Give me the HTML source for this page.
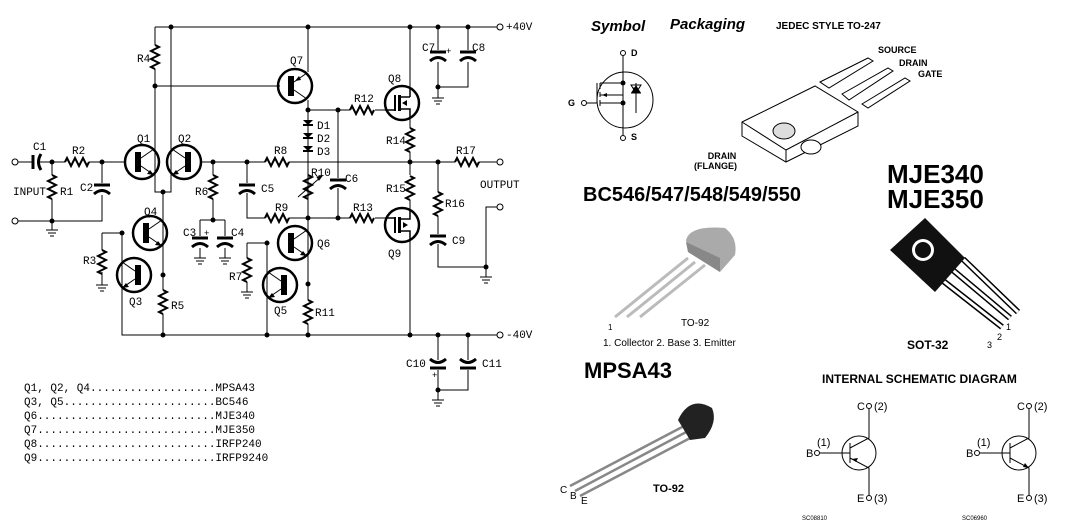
<!DOCTYPE html>
<html><head><meta charset="utf-8"><style>
html,body{margin:0;padding:0;background:#fff;width:1066px;height:528px;overflow:hidden}
svg{display:block}
.m{font-family:"Liberation Mono",monospace;font-size:11px;fill:#000}
.s{font-family:"Liberation Sans",sans-serif;fill:#000}
</style></head><body>
<svg width="1066" height="528" viewBox="0 0 1066 528" xmlns="http://www.w3.org/2000/svg">
<defs>
<path id="rv" d="M0,0 l4,2 -8,4 8,4 -8,4 8,4 -8,4 4,2" fill="none" stroke="#000" stroke-width="2"/>
<path id="rh" d="M0,0 l2,-4 4,8 4,-8 4,8 4,-8 4,8 2,-4" fill="none" stroke="#000" stroke-width="2"/>
<g id="npn"><circle r="17" fill="none" stroke="#000" stroke-width="2.5"/><rect x="-7" y="-10" width="6" height="20"/><line x1="-1" y1="-4" x2="12" y2="-13" stroke="#000"/><line x1="-1" y1="4" x2="12" y2="13" stroke="#000"/><path d="M12,13 l-7,-1 3,-4z"/></g>
<g id="pnp"><circle r="17" fill="none" stroke="#000" stroke-width="2.5"/><rect x="-7" y="-10" width="6" height="20"/><line x1="-1" y1="-4" x2="12" y2="-13" stroke="#000"/><line x1="-1" y1="4" x2="12" y2="13" stroke="#000"/><path d="M0,-5 l6,-1 -2,-4z"/></g>
<g id="capv"><line x1="-8" y1="0" x2="8" y2="0" stroke="#000" stroke-width="3"/><path d="M-8,9 Q0,2 8,9" fill="none" stroke="#000" stroke-width="3"/></g>
<g id="gnd" stroke="#000"><line x1="-6" y1="0" x2="6" y2="0"/><line x1="-4" y1="3" x2="4" y2="3"/><line x1="-2" y1="6" x2="2" y2="6"/></g>
</defs>
<g stroke="#000" stroke-width="1" fill="none">
<path d="M155,27H497"/><circle cx="500" cy="27" r="3"/>
<path d="M155,27V45 M155,69V192H171V27 M155,86H280"/>
<path d="M308,27V72 M308,100V218 M308,110H350 M375,110H385"/>
<path d="M410,27V88 M410,118V128 M410,152V175 M410,200V210 M410,240V335"/>
<path d="M438,27V50 M468,27V50 M438,62V87H468V62 M438,87V98"/>
<circle cx="15" cy="162" r="3"/><path d="M18,162H33 M40,162H65 M89,162H125 M200,162H265 M289,162H455 M479,162H497"/><circle cx="500" cy="162" r="3"/>
<path d="M52,162V175 M52,199V221H102V195 M102,162V183 M18,221H52 M52,221V230"/><circle cx="15" cy="221" r="3"/>
<path d="M163,192V275 M163,275V290 M163,314V335 M122,233V335H497"/><circle cx="500" cy="335" r="3"/>
<path d="M102,233H122 M102,233V250 M102,272V285"/>
<path d="M213,162V175 M213,199V220 M200,220H225 M200,220V236 M225,220V236 M200,248V258 M225,248V258"/>
<path d="M247,162V183 M247,193V218H265 M289,218H350 M375,218H385 M338,110V178 M338,188V218"/>
<path d="M247,243H267V335 M247,243V258 M247,282V292 M308,218V300 M308,324V335"/>
<path d="M438,162V192 M438,216V234 M438,244V267H486V207H497 M486,267V277"/><circle cx="500" cy="207" r="3"/>
<path d="M438,335V360 M468,335V360 M438,370V390H468V370 M438,390V400"/>
</g>
<g fill="#000">
<circle cx="171" cy="27" r="2.5"/><circle cx="308" cy="27" r="2.5"/><circle cx="410" cy="27" r="2.5"/><circle cx="438" cy="27" r="2.5"/><circle cx="468" cy="27" r="2.5"/><circle cx="438" cy="87" r="2.5"/>
<circle cx="155" cy="86" r="2.5"/><circle cx="163" cy="192" r="2.5"/><circle cx="308" cy="110" r="2.5"/><circle cx="338" cy="110" r="2.5"/>
<circle cx="52" cy="162" r="2.5"/><circle cx="102" cy="162" r="2.5"/><circle cx="213" cy="162" r="2.5"/><circle cx="247" cy="162" r="2.5"/><circle cx="410" cy="162" r="2.5"/><circle cx="438" cy="162" r="2.5"/>
<circle cx="52" cy="221" r="2.5"/><circle cx="213" cy="220" r="2.5"/><circle cx="308" cy="218" r="2.5"/><circle cx="338" cy="218" r="2.5"/>
<circle cx="122" cy="233" r="2.5"/><circle cx="163" cy="275" r="2.5"/><circle cx="267" cy="243" r="2.5"/><circle cx="308" cy="284" r="2.5"/><circle cx="486" cy="267" r="2.5"/>
<circle cx="163" cy="335" r="2.5"/><circle cx="267" cy="335" r="2.5"/><circle cx="308" cy="335" r="2.5"/><circle cx="410" cy="335" r="2.5"/><circle cx="438" cy="335" r="2.5"/><circle cx="468" cy="335" r="2.5"/><circle cx="438" cy="390" r="2.5"/>
<path d="M303,120h10l-5,5z M303,133h10l-5,5z M303,146h10l-5,5z"/>
</g>
<g stroke="#000" stroke-width="2"><line x1="303" y1="125" x2="313" y2="125"/><line x1="303" y1="138" x2="313" y2="138"/><line x1="303" y1="151" x2="313" y2="151"/></g>
<line x1="33" y1="155" x2="33" y2="169" stroke="#000" stroke-width="3"/><path d="M41,154 Q36,162 41,170" fill="none" stroke="#000" stroke-width="3"/>
<use href="#rv" x="155" y="45"/><use href="#rv" x="52" y="175"/><use href="#rv" x="213" y="175"/><use href="#rv" x="102" y="250"/><use href="#rv" x="163" y="290"/>
<use href="#rv" x="247" y="258"/><use href="#rv" x="308" y="300"/><use href="#rv" x="308" y="175"/><use href="#rv" x="410" y="128"/><use href="#rv" x="410" y="176"/><use href="#rv" x="438" y="192"/>
<use href="#rh" x="65" y="162"/><use href="#rh" x="265" y="162"/><use href="#rh" x="265" y="218"/><use href="#rh" x="350" y="110"/><use href="#rh" x="350" y="218"/><use href="#rh" x="455" y="162"/>
<path d="M298,197 L322,176 M322,176 l-5,1 2,3z" stroke="#000" fill="#000"/>
<use href="#capv" x="102" y="185"/><use href="#capv" x="247" y="185"/><use href="#capv" x="338" y="180"/><use href="#capv" x="438" y="236"/>
<use href="#capv" x="200" y="238"/><use href="#capv" x="225" y="238"/><use href="#capv" x="438" y="52"/><use href="#capv" x="468" y="52"/>
<g transform="translate(438,368) scale(1,-1)"><use href="#capv"/></g><g transform="translate(468,368) scale(1,-1)"><use href="#capv"/></g>
<use href="#gnd" x="52" y="230"/><use href="#gnd" x="102" y="285"/><use href="#gnd" x="200" y="258"/><use href="#gnd" x="225" y="258"/><use href="#gnd" x="247" y="292"/><use href="#gnd" x="438" y="98"/><use href="#gnd" x="486" y="277"/><use href="#gnd" x="438" y="400"/>
<use href="#npn" x="142" y="162"/><g transform="translate(184,162) scale(-1,1)"><use href="#npn"/></g>
<use href="#npn" x="150" y="233"/><g transform="translate(134,275) scale(-1,1)"><use href="#npn"/></g>
<use href="#npn" x="295" y="243"/><g transform="translate(280,285) scale(-1,1)"><use href="#npn"/></g>
<use href="#pnp" x="295" y="86"/>
<g stroke="#000" fill="none" stroke-width="2.5"><circle cx="402" cy="103" r="17"/><circle cx="402" cy="225" r="17"/></g>
<g fill="#000"><rect x="394" y="95" width="2" height="16"/><rect x="398" y="95" width="3" height="16"/><rect x="394" y="217" width="2" height="16"/><rect x="398" y="217" width="3" height="16"/><path d="M402,103l5,-3v6z M408,225l-5,-3v6z"/></g>
<path d="M401,97h9 M401,109h9V118 M410,97V88 M401,219h9V210 M401,231h9V240 M385,110h9 M385,218h9" stroke="#000" fill="none" stroke-width="1.5"/>
<g class="m" font-size="10.5">
<text x="137" y="62">R4</text><text x="290" y="64">Q7</text><text x="388" y="82">Q8</text><text x="422" y="51">C7</text><text x="446" y="54" font-size="9">+</text><text x="472" y="51">C8</text>
<text x="354" y="102">R12</text><text x="317" y="129">D1</text><text x="317" y="142">D2</text><text x="317" y="155">D3</text><text x="386" y="144">R14</text>
<text x="33" y="150">C1</text><text x="72" y="154">R2</text><text x="137" y="142">Q1</text><text x="178" y="142">Q2</text><text x="274" y="154">R8</text><text x="456" y="154">R17</text>
<text x="13" y="195">INPUT</text><text x="60" y="195">R1</text><text x="80" y="191">C2</text><text x="195" y="195">R6</text><text x="261" y="192">C5</text>
<text x="311" y="176">R10</text><text x="345" y="182">C6</text><text x="386" y="192">R15</text><text x="480" y="188">OUTPUT</text><text x="445" y="207">R16</text>
<text x="144" y="215">Q4</text><text x="275" y="211">R9</text><text x="353" y="211">R13</text><text x="183" y="236">C3</text><text x="204" y="236" font-size="9">+</text><text x="231" y="236">C4</text>
<text x="317" y="247">Q6</text><text x="452" y="244">C9</text><text x="388" y="257">Q9</text><text x="83" y="264">R3</text><text x="229" y="280">R7</text>
<text x="129" y="305">Q3</text><text x="171" y="309">R5</text><text x="274" y="314">Q5</text><text x="315" y="316">R11</text>
<text x="506" y="30">+40V</text><text x="506" y="338">-40V</text><text x="406" y="367">C10</text><text x="432" y="378" font-size="9">+</text><text x="482" y="367">C11</text>
</g>
<g class="m">
<text x="24" y="391">Q1, Q2, Q4...................MPSA43</text>
<text x="24" y="405">Q3, Q5.......................BC546</text>
<text x="24" y="419">Q6...........................MJE340</text>
<text x="24" y="433">Q7...........................MJE350</text>
<text x="24" y="447">Q8...........................IRFP240</text>
<text x="24" y="461">Q9...........................IRFP9240</text>
</g>
<g class="s">
<text x="591" y="31" font-size="15" font-weight="bold" font-style="italic">Symbol</text>
<text x="670" y="29" font-size="15" font-weight="bold" font-style="italic">Packaging</text>
<text x="776" y="29" font-size="10" font-weight="bold">JEDEC STYLE TO-247</text>
<text x="878" y="53" font-size="9" font-weight="bold">SOURCE</text><text x="899" y="66" font-size="9" font-weight="bold">DRAIN</text><text x="918" y="77" font-size="9" font-weight="bold">GATE</text>
<text x="722" y="159" font-size="9" font-weight="bold" text-anchor="middle">DRAIN</text><text x="737" y="169" font-size="9" font-weight="bold" text-anchor="end">(FLANGE)</text>
<text x="583" y="201" font-size="20" font-weight="bold">BC546/547/548/549/550</text>
<text x="887" y="183" font-size="26" font-weight="bold">MJE340</text><text x="887" y="208" font-size="26" font-weight="bold">MJE350</text>
<text x="681" y="326" font-size="10">TO-92</text><text x="608" y="330" font-size="8">1</text>
<text x="603" y="346" font-size="10">1. Collector   2. Base   3. Emitter</text>
<text x="907" y="349" font-size="12" font-weight="bold">SOT-32</text><text x="1006" y="330" font-size="9">1</text><text x="997" y="340" font-size="9">2</text><text x="987" y="348" font-size="9">3</text>
<text x="584" y="378" font-size="22" font-weight="bold">MPSA43</text>
<text x="822" y="383" font-size="12" font-weight="bold">INTERNAL  SCHEMATIC  DIAGRAM</text>
<text x="560" y="493" font-size="10">C</text><text x="570" y="499" font-size="10">B</text><text x="581" y="504" font-size="10">E</text>
<text x="653" y="492" font-size="11" font-weight="bold">TO-92</text>
</g>
<g stroke="#000" fill="none">
<circle cx="625" cy="100" r="28"/><circle cx="623" cy="53" r="2.5"/><circle cx="623" cy="138" r="2.5"/><circle cx="584" cy="103" r="2.5"/>
<path d="M623,56V83 M623,120V135 M587,103H597V83 M600,83V89 M600,92V97 M600,100V106 M600,83h23 M600,95h23 M600,103h23V120 M623,83V103 M636,83V113 M636,88 h-3 M631,85h10l-5,8z M631,93h10"/>
</g>
<g fill="#000"><circle cx="623" cy="83" r="2.5"/><circle cx="623" cy="103" r="2.5"/><path d="M631,93l5,-8 5,8z"/><path d="M602,95l5,-2v4z"/></g>
<g class="s" font-size="9" font-weight="bold"><text x="631" y="56">D</text><text x="631" y="140">S</text><text x="568" y="106">G</text></g>
<g stroke="#000" fill="#fff" stroke-width="1">
<path d="M820,82 L868,58 L873,61 L829,88z M842,94 L888,68 L893,71 L849,100z M862,104 L905,78 L910,81 L868,108z"/>
<path d="M742,122 L815,86 L858,112 L858,126 L786,162 L742,136z"/>
<path d="M742,122 L786,150 L858,112 M786,150 V162"/>
<ellipse cx="784" cy="131" rx="11" ry="8" fill="#ddd"/>
<ellipse cx="811" cy="147" rx="10" ry="7"/>
</g>
<g>
<path d="M640,317 L705,265 M627,317 L695,262 M615,317 L688,258" stroke="#bbb" stroke-width="3"/>
<path d="M686,240 Q690,225 725,228 Q738,238 735,255 L720,272 L688,252z" fill="#aaa"/>
<path d="M686,242 L720,258 L720,272 L688,252z" fill="#888"/>
</g>
<g>
<path d="M933,273 L1002,327 M948,266 L1010,318 M963,259 L1018,312" stroke="#000" stroke-width="6"/>
<path d="M933,273 L1002,327 M948,266 L1010,318 M963,259 L1018,312" stroke="#fff" stroke-width="3"/>
<path d="M890,250 L925,218 L965,258 L935,292z" fill="#111"/>
<circle cx="923" cy="250" r="11" fill="#fff"/><circle cx="923" cy="250" r="8" fill="#111"/>
</g>
<g>
<path d="M570,486 L686,425 M575,491 L690,430 M580,496 L694,436" stroke="#888" stroke-width="2.5"/>
<path d="M678,420 Q690,395 712,408 Q718,422 705,438 L690,440z" fill="#222"/>
</g>
<g stroke="#000" fill="none">
<circle cx="859" cy="453" r="17"/><path d="M820,453H850 M850,443V463 M850,448L869,438V409 M850,458L869,468V495"/><circle cx="817" cy="453" r="2.5"/><circle cx="869" cy="406" r="2.5"/><circle cx="869" cy="498" r="2.5"/>
<circle cx="1019" cy="453" r="17"/><path d="M980,453H1010 M1010,443V463 M1010,448L1029,438V409 M1010,458L1029,468V495"/><circle cx="977" cy="453" r="2.5"/><circle cx="1029" cy="406" r="2.5"/><circle cx="1029" cy="498" r="2.5"/>
</g>
<g fill="#000"><path d="M852,459l6,-1 -2,4z M1029,468l-6,-1 2,-4z"/></g>
<g class="s" font-size="11"><text x="857" y="410">C</text><text x="874" y="410">(2)</text><text x="817" y="446">(1)</text><text x="806" y="457">B</text><text x="857" y="502">E</text><text x="874" y="502">(3)</text>
<text x="1017" y="410">C</text><text x="1034" y="410">(2)</text><text x="977" y="446">(1)</text><text x="966" y="457">B</text><text x="1017" y="502">E</text><text x="1034" y="502">(3)</text>
<text x="802" y="520" font-size="6">SC08810</text><text x="962" y="520" font-size="6">SC06960</text></g>
</svg>
</body></html>
